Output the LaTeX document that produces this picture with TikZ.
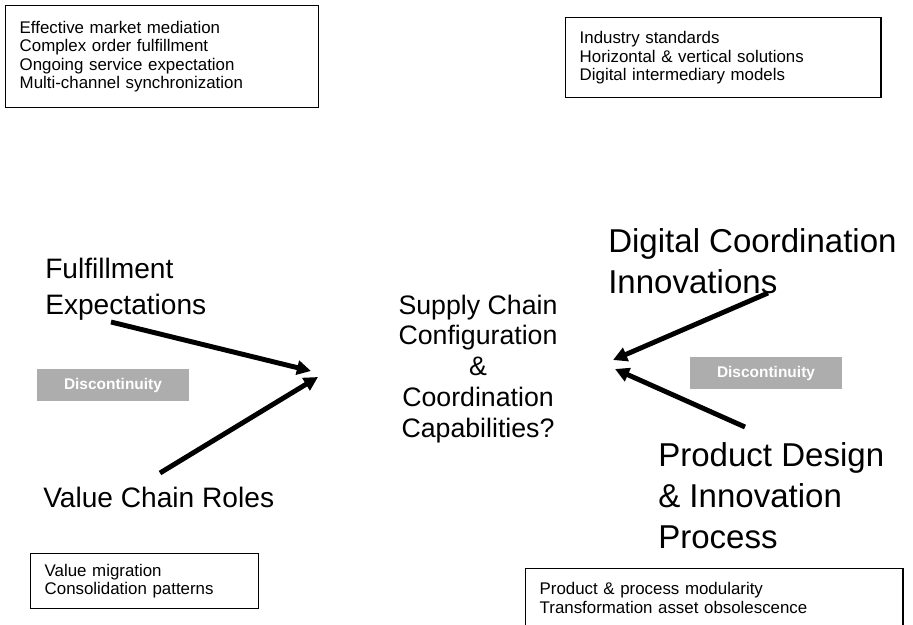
\documentclass[tikz,border=0pt]{standalone}
\usepackage{fontspec}
\setmainfont{Liberation Sans}
\usetikzlibrary{arrows.meta}
\definecolor{discgray}{gray}{0.68}
\tikzset{infobox/.style={rectangle, draw, line width=1pt, anchor=north west, align=left,
 inner xsep=0.35cm, inner ysep=0pt, font=\fontsize{12}{13.2}\selectfont}}
\tikzset{leftlabel/.style={anchor=west, align=left, inner sep=0pt, font=\fontsize{20}{25.6}\selectfont}}
\tikzset{rightlabel/.style={anchor=west, align=left, inner sep=0pt, font=\fontsize{23.5}{29.2}\selectfont}}
\tikzset{hub/.style={align=center, inner sep=0pt, font=\fontsize{19}{22}\selectfont}}
\tikzset{disc/.style={rectangle, fill=discgray, text=white, minimum width=3.8cm, minimum height=0.82cm,
 font=\fontsize{11}{13}\selectfont\bfseries}}
\tikzset{line/.style={draw, line width=3.5pt, -{Triangle[length=10pt,width=10pt]}}}

\begin{document}
\begin{tikzpicture}[x=0.025cm, y=-0.025cm]
        \useasboundingbox (0,0) rectangle (913,624);
        % boxes
        \node[infobox, text width=7.125cm, minimum height=2.55cm] (mktbox) at (5,5)
          {Effective market mediation\\Complex order fulfillment\\Ongoing service expectation\\Multi-channel synchronization};
        \node[infobox, text width=7.175cm, minimum height=2.0cm] (stdbox) at (565,17)
          {Industry standards\\Horizontal \& vertical solutions\\Digital intermediary models};
        \node[infobox, text width=5.0cm, minimum height=1.375cm] (valbox) at (30,553)
          {Value migration\\Consolidation patterns};
        \node[infobox, text width=8.725cm, minimum height=1.45cm] (modbox) at (525,568)
          {Product \& process modularity\\Transformation asset obsolescence};

        % labels
        \node[leftlabel]   (fulf) at (45,289) {Fulfillment\\Expectations};
        \node[leftlabel]   (valu) at (43,497) {Value Chain Roles};
        \node[rightlabel]  (digi) at (608,261) {Digital Coordination\\Innovations};
        \node[rightlabel]  (prod) at (658,496) {Product Design\\\& Innovation\\Process};
        \node[hub]         (scc) at (478,369) {Supply Chain\\Configuration\\\&\\Coordination\\Capabilities?};

        \node[disc] (discl) at (113,385) {Discontinuity};
        \node[disc] (discr) at (766,373) {Discontinuity};

        % arrow ends
        \coordinate (fulftail) at (111,322);
        \coordinate (fulftip)  at (311,371);
        \coordinate (valutail) at (160,473);
        \coordinate (valutip)  at (318,377);
        \coordinate (digitail) at (768,293);
        \coordinate (digitip)  at (613,360);
        \coordinate (prodtail) at (745,427);
        \coordinate (prodtip)  at (615,369);

        \path[line] (fulftail) -- (fulftip);
        \path[line] (valutail) -- (valutip);
        \path[line] (digitail) -- (digitip);
        \path[line] (prodtail) -- (prodtip);
      \end{tikzpicture}
\end{document}
